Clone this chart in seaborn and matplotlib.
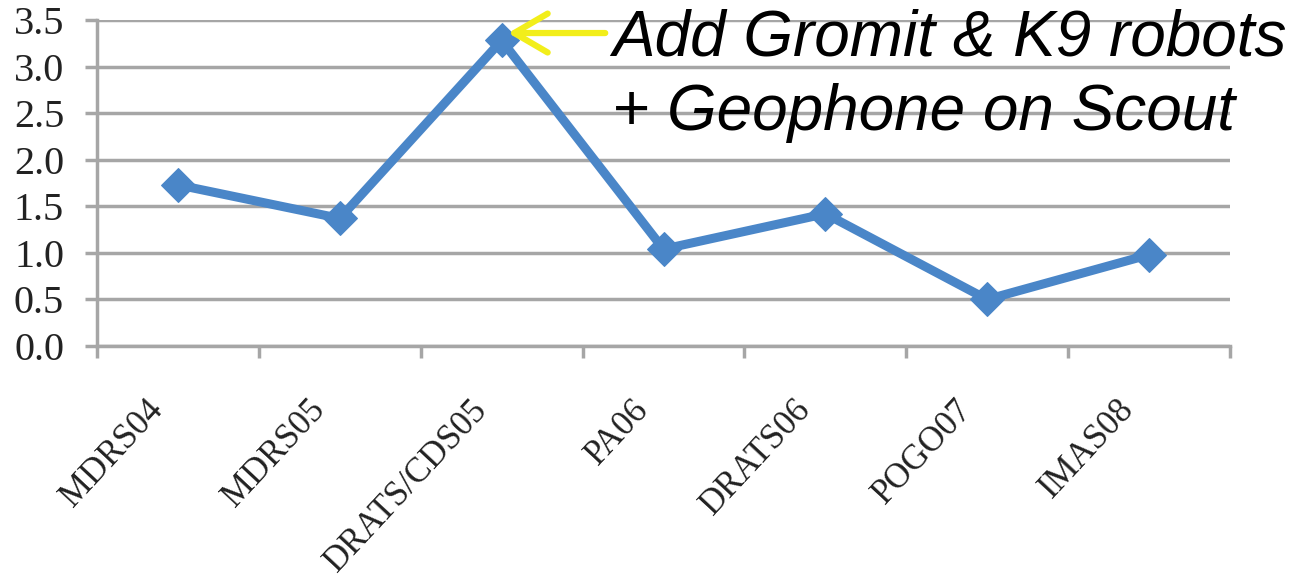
import pandas as pd
import seaborn as sns
from matplotlib import pyplot as plt
from matplotlib import transforms

# values
missions = ['MDRS04', 'MDRS05', 'DRATS/CDS05', 'PA06', 'DRATS06', 'POGO07', 'IMAS08']
values = [1.73, 1.37, 3.28, 1.04, 1.42, 0.50, 0.98]
y_ticks = [0.0, 0.5, 1.0, 1.5, 2.0, 2.5, 3.0, 3.5]
note_lines = ['Add Gromit & K9 robots', '+ Geophone on Scout']

sns.set_theme(style='white')
plt.rcParams['font.family'] = ['Liberation Serif', 'DejaVu Serif']

W, H = 1298, 583
fig = plt.figure(figsize=(W / 100, H / 100), dpi=100)
ax = fig.add_axes([97 / W, 1 - 346 / H, (1230 - 97) / W, (346 - 20) / H])

df = pd.DataFrame({'mission': missions, 'value': values})
blue = '#4A86C8'
grey = '#A6A6A6'
sns.lineplot(data=df, x='mission', y='value', ax=ax, sort=False, color=blue,
             lw=6.5, marker='D', ms=17, mec=blue, mfc=blue)

ax.set_xlim(-0.5, len(missions) - 0.5)
ax.set_ylim(0, 3.5)
ax.set_xlabel('')
ax.set_ylabel('')

# gridlines / spines, excel style
ax.set_yticks(y_ticks)
ax.set_yticklabels(['{:.1f}'.format(v) for v in y_ticks], fontsize=29, color='#222222')
ax.yaxis.grid(True, color=grey, lw=2.5)
ax.set_axisbelow(True)
for s in ['top', 'right']:
    ax.spines[s].set_visible(False)
for s in ['left', 'bottom']:
    ax.spines[s].set_color(grey)
    ax.spines[s].set_linewidth(2.5)
ax.tick_params(axis='y', direction='out', length=8.6, width=2.5, color=grey, pad=15, left=True)

ax.set_xticks(range(len(missions)))
ax.set_xticks([i - 0.5 for i in range(len(missions) + 1)], minor=True)
ax.tick_params(axis='x', which='major', length=0, pad=0, bottom=True)
ax.tick_params(axis='x', which='minor', direction='out', length=8.6, width=2.5, color=grey, bottom=True)
ax.set_xticklabels(missions, rotation=47, ha='right', va='top', rotation_mode='anchor',
                   fontsize=25, color='#222222')
shift = transforms.ScaledTranslation(-32 / 100, -47 / 100, fig.dpi_scale_trans)
for lab in ax.get_xticklabels():
    lab.set_transform(lab.get_transform() + shift)

# yellow arrow + note
ax.annotate('', xy=(2.04, 3.36), xytext=(2.64, 3.36),
            arrowprops=dict(arrowstyle='->,head_length=0.6,head_width=0.35',
                            color='#F2EE1A', lw=4.5, mutation_scale=40,
                            shrinkA=0, shrinkB=0),
            annotation_clip=False)
fig.text(612 / W, 1 - 55 / H, note_lines[0], family=['Liberation Sans'], style='italic',
         fontsize=46, va='baseline', color='black')
fig.text(612 / W, 1 - 130 / H, note_lines[1], family=['Liberation Sans'], style='italic',
         fontsize=46, va='baseline', color='black')

fig.savefig('out.png', dpi=100)
